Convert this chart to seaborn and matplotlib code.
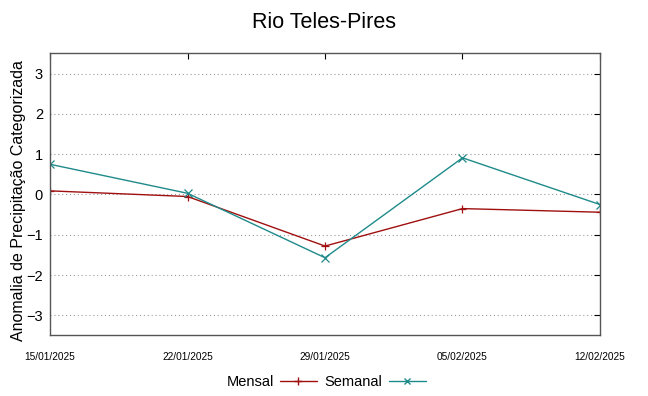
import matplotlib
matplotlib.use("Agg")
import matplotlib.pyplot as plt
import matplotlib.dates as mdates
import pandas as pd
import seaborn as sns

# values
dates = ["2025-01-15", "2025-01-22", "2025-01-29", "2025-02-05", "2025-02-12"]
mensal = [0.09, -0.05, -1.28, -0.35, -0.44]
semanal = [0.75, 0.03, -1.57, 0.91, -0.25]
series_names = ["Mensal", "Semanal"]
colors = ["#a01010", "#1f8a8a"]

df = pd.DataFrame({
    "Data": pd.to_datetime(dates).tolist() * 2,
    "Valor": mensal + semanal,
    "Serie": [series_names[0]] * len(dates) + [series_names[1]] * len(dates),
})

sns.set_style("white")
plt.rcParams["font.family"] = ["Liberation Sans", "DejaVu Sans"]
plt.rcParams.update({"text.color": "black", "axes.labelcolor": "black",
                     "xtick.color": "black", "ytick.color": "black"})

fig = plt.figure(figsize=(6.48, 3.96), dpi=100)
ax = fig.add_axes([0.0772, 0.1528, 0.8487, 0.7121])

sns.lineplot(data=df, x="Data", y="Valor", hue="Serie", style="Serie",
             palette=colors, markers=["+", "x"], dashes=False,
             linewidth=1, markersize=6,
             ax=ax, legend=False)
# seaborn paints marker edges white; '+' and 'x' need the line colour
for line in ax.lines:
    line.set_markeredgecolor(line.get_color())
    line.set_markeredgewidth(0.9)

ax.set_xlim(pd.Timestamp(dates[0]), pd.Timestamp(dates[-1]))
ax.set_ylim(-3.5, 3.5)
ax.set_yticks([-3, -2, -1, 0, 1, 2, 3])
ax.set_xticks(pd.to_datetime(dates))
ax.xaxis.set_major_formatter(mdates.DateFormatter("%d/%m/%Y"))
ax.yaxis.grid(True, linestyle=(0, (1, 2.5)), color="#999999", linewidth=0.8)
ax.xaxis.grid(False)
ax.tick_params(direction="in", top=True, right=True, length=4, width=0.8,
               color="black")
ax.tick_params(axis="x", labelsize=7.3, pad=12)
ax.tick_params(axis="y", labelsize=10.5, pad=5)
for s in ax.spines.values():
    s.set_color("#555555")
    s.set_linewidth(1)

ax.set_xlabel("")
ax.set_ylabel("Anomalia de Precipitação Categorizada", fontsize=11.5)
ax.yaxis.set_label_coords(-0.044, 0.477)
fig.suptitle("Rio Teles-Pires", fontsize=15.5, y=0.97)

handles = [plt.Line2D([], [], color=colors[0], marker="+", lw=1, markersize=6),
           plt.Line2D([], [], color=colors[1], marker="x", lw=1, markersize=5)]
fig.legend(handles, series_names, loc="center", bbox_to_anchor=(0.503, 1 - 382 / 396),
           ncol=2, frameon=False, markerfirst=False, handlelength=2.5,
           fontsize=10.5, columnspacing=0.55, handletextpad=0.45)

fig.savefig("out.png", dpi=100)
